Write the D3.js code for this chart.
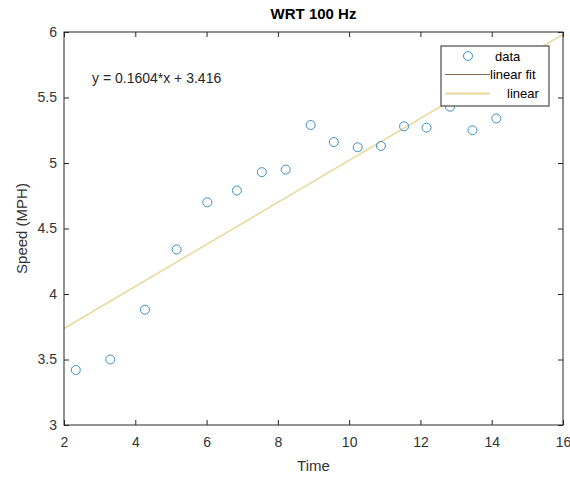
<!DOCTYPE html>
<html><head><meta charset="utf-8">
<script src="https://cdn.jsdelivr.net/npm/d3@7"></script>
<style>body{margin:0;background:#fff;} text{font-family:"Liberation Sans",Arial,sans-serif;}</style>
</head><body><svg id="c" width="570" height="477"></svg>
<script>
const timeVals = [2.33, 3.30, 4.27, 5.16, 6.02, 6.85, 7.55, 8.22, 8.92, 9.57, 10.24, 10.89, 11.54, 12.17, 12.83, 13.46, 14.13];
const speedVals = [3.42, 3.50, 3.88, 4.34, 4.70, 4.79, 4.93, 4.95, 5.29, 5.16, 5.12, 5.13, 5.28, 5.27, 5.43, 5.25, 5.34];
const fitSlope = 0.1604, fitIntercept = 3.416;
const xTicks = [2, 4, 6, 8, 10, 12, 14, 16];
const yTicks = [3, 3.5, 4, 4.5, 5, 5.5, 6];
const legendLabels = ["data", "linear fit", "linear"];

const svg = d3.select("#c");
const L = 64, R = 563, T = 32, B = 425;
const x = d3.scaleLinear().domain([2, 16]).range([L, R]);
const y = d3.scaleLinear().domain([3, 6]).range([B, T]);

const defs = svg.append("defs");
defs.append("clipPath").attr("id","clip").append("rect").attr("x",L).attr("y",T).attr("width",R-L).attr("height",B-T);

// fit line
const fx = [2, 16];
svg.append("path").attr("clip-path","url(#clip)")
  .attr("d", d3.line().x(d=>x(d)).y(d=>y(fitSlope*d+fitIntercept))(fx))
  .attr("stroke","#ead79a").attr("stroke-width",1.5).attr("fill","none");

// data
svg.append("g").selectAll("circle").data(timeVals).join("circle")
  .attr("cx",(d)=>x(d)).attr("cy",(d,i)=>y(speedVals[i])).attr("r",4.5)
  .attr("fill","none").attr("stroke","#3d8fc4").attr("stroke-width",1);

// axes
const fmt = d3.format("");
svg.append("g").attr("transform",`translate(0,${B})`)
  .call(d3.axisBottom(x).tickValues(xTicks).tickSizeInner(-5).tickSizeOuter(0).tickPadding(12.5).tickFormat(fmt))
  .call(g=>{g.select(".domain").remove(); g.selectAll("line").attr("stroke","#262626");
    g.selectAll("text").attr("font-size",14).attr("fill","#333");});
svg.append("g").attr("transform",`translate(0,${T})`)
  .call(d3.axisTop(x).tickValues(xTicks).tickSizeInner(-5).tickSizeOuter(0).tickFormat(""))
  .call(g=>{g.select(".domain").remove(); g.selectAll("line").attr("stroke","#262626");});
svg.append("g").attr("transform",`translate(${L},0)`)
  .call(d3.axisLeft(y).tickValues(yTicks).tickSizeInner(-5).tickSizeOuter(0).tickPadding(7).tickFormat(fmt))
  .call(g=>{g.select(".domain").remove(); g.selectAll("line").attr("stroke","#262626");
    g.selectAll("text").attr("font-size",14).attr("fill","#333");});
svg.append("g").attr("transform",`translate(${R},0)`)
  .call(d3.axisRight(y).tickValues(yTicks).tickSizeInner(-5).tickSizeOuter(0).tickFormat(""))
  .call(g=>{g.select(".domain").remove(); g.selectAll("line").attr("stroke","#262626");});
svg.append("rect").attr("x",L).attr("y",T).attr("width",R-L).attr("height",B-T)
  .attr("fill","none").attr("stroke","#262626").attr("stroke-width",1);

// title & labels
svg.append("text").attr("x",(L+R)/2).attr("y",19).attr("text-anchor","middle")
  .attr("font-size",15).attr("font-weight","bold").attr("fill","#000").text("WRT 100 Hz");
svg.append("text").attr("x",(L+R)/2).attr("y",471).attr("text-anchor","middle")
  .attr("font-size",15).attr("fill","#333").text("Time");
svg.append("text").attr("transform",`translate(27,${(T+B)/2}) rotate(-90)`).attr("text-anchor","middle")
  .attr("font-size",15).attr("fill","#333").text("Speed (MPH)");
svg.append("text").attr("x",92).attr("y",83).attr("font-size",14).attr("fill","#262626")
  .text(`y = ${fitSlope}*x + ${fitIntercept}`);

// legend
const lg = svg.append("g");
lg.append("rect").attr("x",441).attr("y",46).attr("width",108).attr("height",60)
  .attr("fill","#fff").attr("stroke","#262626").attr("stroke-width",1);
lg.append("circle").attr("cx",468).attr("cy",56).attr("r",4.5).attr("fill","none").attr("stroke","#3d8fc4");
lg.append("line").attr("x1",445).attr("x2",490).attr("y1",74.5).attr("y2",74.5).attr("stroke","#8a6a50").attr("stroke-width",1);
lg.append("line").attr("x1",445).attr("x2",490).attr("y1",93.5).attr("y2",93.5).attr("stroke","#ead79a").attr("stroke-width",2);
const lx = [495, 490, 507], ly = [61, 79, 98];
legendLabels.forEach((t,i)=>lg.append("text").attr("x",lx[i]).attr("y",ly[i]).attr("font-size",13).attr("fill","#000").text(t));
</script></body></html>
